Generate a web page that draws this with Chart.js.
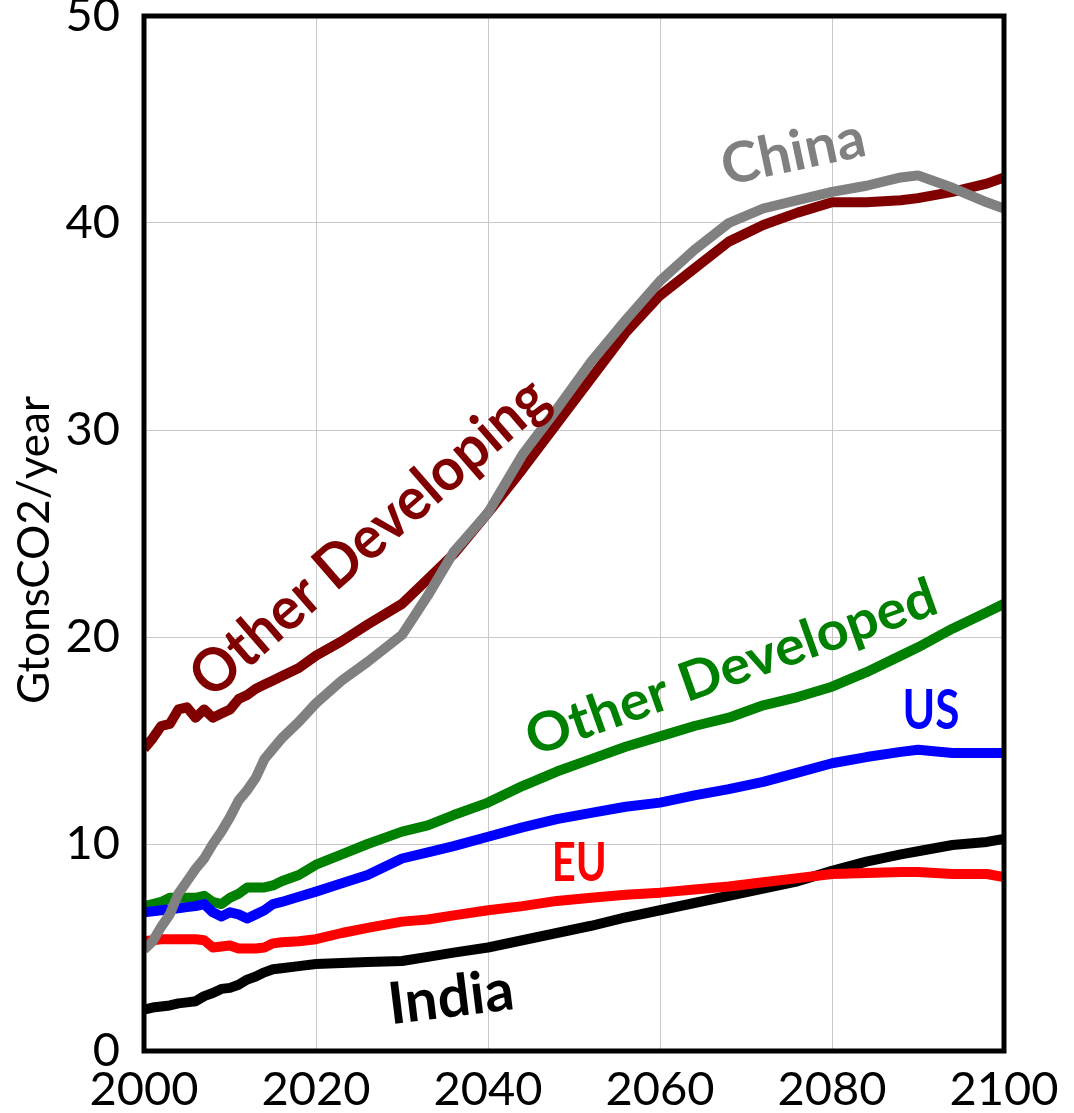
<!DOCTYPE html>
<html>
<head>
<meta charset="utf-8">
<script src="https://cdn.jsdelivr.net/npm/chart.js@4/dist/chart.umd.min.js"></script>
<style>
  html, body { margin: 0; padding: 0; background: #ffffff; }
  #wrap { width: 1074px; height: 1113px; position: relative; }
</style>
</head>
<body>
<div id="wrap"><canvas id="c" width="1074" height="1113"></canvas></div>
<script>
// ---- data ----
const years = [2000,2001,2002,2003,2004,2005,2006,2007,2008,2009,2010,2011,2012,2013,2014,2015,2016,
  2018,2020,2023,2026,2030,2033,2036,2040,2044,2048,2052,2056,2060,2064,2068,2072,2076,2080,2084,2088,2090,2094,2098,2100];
const otherDeveloping = [14.6,15.1,15.7,15.8,16.5,16.6,16.1,16.5,16.1,16.3,16.5,17.0,17.2,17.5,17.7,17.9,18.1,
  18.5,19.1,19.8,20.6,21.6,22.8,24.0,26.0,28.1,30.3,32.5,34.7,36.5,37.8,39.1,39.9,40.5,41.0,41.0,41.1,41.2,41.5,41.9,42.2];
const china = [4.9,5.3,6.0,6.6,7.6,8.2,8.8,9.3,10.0,10.6,11.3,12.1,12.6,13.2,14.1,14.6,15.1,
  15.9,16.8,17.9,18.8,20.1,22.0,24.1,26.0,28.8,31.0,33.3,35.3,37.2,38.7,40.0,40.7,41.1,41.5,41.8,42.2,42.3,41.7,41.0,40.7];
const otherDeveloped = [7.0,7.1,7.2,7.4,7.4,7.4,7.4,7.5,7.2,7.1,7.4,7.6,7.9,7.9,7.9,8.0,8.2,
  8.5,9.0,9.5,10.0,10.6,10.9,11.4,12.0,12.8,13.5,14.1,14.7,15.2,15.7,16.1,16.7,17.1,17.6,18.3,19.1,19.5,20.4,21.2,21.6];
const us = [6.7,6.75,6.8,6.85,6.9,6.95,7.0,7.1,6.7,6.5,6.7,6.6,6.4,6.6,6.8,7.1,7.2,
  7.45,7.7,8.1,8.5,9.3,9.6,9.9,10.35,10.8,11.2,11.5,11.8,12.0,12.35,12.65,13.0,13.45,13.9,14.2,14.45,14.55,14.4,14.4,14.4];
const eu = [5.3,5.35,5.4,5.4,5.4,5.4,5.4,5.35,5.0,5.05,5.1,4.95,4.95,4.95,5.0,5.2,5.25,
  5.3,5.4,5.7,5.95,6.25,6.35,6.55,6.8,7.0,7.25,7.4,7.55,7.65,7.8,7.95,8.15,8.35,8.55,8.6,8.65,8.65,8.55,8.55,8.4];
const india = [2.0,2.1,2.15,2.2,2.3,2.35,2.4,2.65,2.8,3.0,3.05,3.2,3.45,3.6,3.8,3.95,4.0,
  4.1,4.2,4.25,4.3,4.35,4.55,4.75,5.0,5.35,5.7,6.05,6.45,6.8,7.15,7.5,7.85,8.2,8.7,9.15,9.5,9.65,9.95,10.1,10.25];
const xTickLabels = ['2000','2020','2040','2060','2080','2100'];
const yTickLabels = ['0','10','20','30','40','50'];
const yTitle = 'GtonsCO2/year';
const seriesNames = ['China','US','Other Developed','EU','India','Other Developing'];

// ---- build ----
const pts = arr => arr.map((v, i) => ({ x: years[i], y: v }));
function ds(label, data, color, order) {
  return { label, data: pts(data), borderColor: color, backgroundColor: color, borderWidth: 10,
    pointRadius: 0, tension: 0, fill: false, order, borderJoinStyle: 'round', borderCapStyle: 'butt' };
}

// label annotations anchored in data space; font size sets height, width is fitted horizontally
const labelSpecs = [
  { text: 'Other Developing', color: '#800000', x: 2026.2, y: 24.8, angle: -41, width: 452, size: 60 },
  { text: 'China', color: '#808080', x: 2075.5, y: 43.4, angle: -12, width: 146, size: 56 },
  { text: 'Other Developed', color: '#008000', x: 2068.3, y: 18.5, angle: -19.5, width: 432, size: 54 },
  { text: 'US', color: '#0000ff', x: 2091.5, y: 16.4, angle: 0, width: 57, size: 55 },
  { text: 'EU', color: '#ff0000', x: 2050.6, y: 9.05, angle: 0, width: 55, size: 54 },
  { text: 'India', color: '#000000', x: 2035.7, y: 2.56, angle: -7, width: 126, size: 58 }
];

const frameAndLabels = {
  id: 'frameAndLabels',
  afterDatasetsDraw(chart) {
    const { ctx, chartArea: a, scales } = chart;
    ctx.save();
    ctx.lineWidth = 5;
    ctx.strokeStyle = '#000';
    ctx.strokeRect(a.left, a.top, a.right - a.left, a.bottom - a.top);
    for (const s of labelSpecs) {
      const cx = scales.x.getPixelForValue(s.x);
      const cy = scales.y.getPixelForValue(s.y);
      ctx.font = 'bold ' + s.size + 'px Lato, "DejaVu Sans", sans-serif';
      const w = ctx.measureText(s.text).width;
      ctx.translate(cx, cy);
      ctx.rotate(s.angle * Math.PI / 180);
      ctx.scale(s.width / w, 1);
      ctx.fillStyle = s.color;
      ctx.textAlign = 'center';
      ctx.textBaseline = 'middle';
      ctx.fillText(s.text, 0, 0);
      ctx.setTransform(1, 0, 0, 1, 0, 0);
    }
    // y axis title
    ctx.font = '44px Lato, "DejaVu Sans", sans-serif';
    ctx.fillStyle = '#000';
    ctx.translate(35, 550);
    ctx.rotate(-Math.PI / 2);
    ctx.textAlign = 'center';
    ctx.textBaseline = 'middle';
    ctx.fillText(yTitle, 0, 0);
    ctx.restore();
  }
};

const tickFont = { family: 'Lato, "DejaVu Sans", sans-serif', size: 47, weight: 'normal' };

new Chart(document.getElementById('c'), {
  type: 'line',
  data: {
    datasets: [
      ds(seriesNames[0], china, '#808080', 1),
      ds(seriesNames[1], us, '#0000ff', 2),
      ds(seriesNames[2], otherDeveloped, '#008000', 3),
      ds(seriesNames[3], eu, '#ff0000', 4),
      ds(seriesNames[4], india, '#000000', 5),
      ds(seriesNames[5], otherDeveloping, '#800000', 6)
    ]
  },
  options: {
    responsive: false,
    animation: false,
    layout: { padding: { top: 16, right: 70, left: 0, bottom: 0 } },
    plugins: { legend: { display: false }, tooltip: { enabled: false }, title: { display: false } },
    scales: {
      x: {
        type: 'linear', min: 2000, max: 2100,
        afterFit: s => { s.height = 62; s.paddingLeft = 0; s.paddingRight = 0; },
        grid: { color: '#c8c8c8', lineWidth: 1, drawTicks: false },
        border: { display: false },
        ticks: { stepSize: 20, font: tickFont, color: '#000', padding: 11, maxRotation: 0,
          callback: (v) => { const i = xTickLabels.indexOf(String(v)); return i >= 0 ? xTickLabels[i] : ''; } }
      },
      y: {
        type: 'linear', min: 0, max: 50,
        afterFit: s => { s.width = 144; s.paddingTop = 0; s.paddingBottom = 0; },
        grid: { color: '#c8c8c8', lineWidth: 1, drawTicks: false },
        border: { display: false },
        ticks: { stepSize: 10, font: tickFont, color: '#000', padding: 24,
          callback: (v) => { const i = yTickLabels.indexOf(String(v)); return i >= 0 ? yTickLabels[i] : ''; } }
      }
    }
  },
  plugins: [frameAndLabels]
});
</script>
</body>
</html>
